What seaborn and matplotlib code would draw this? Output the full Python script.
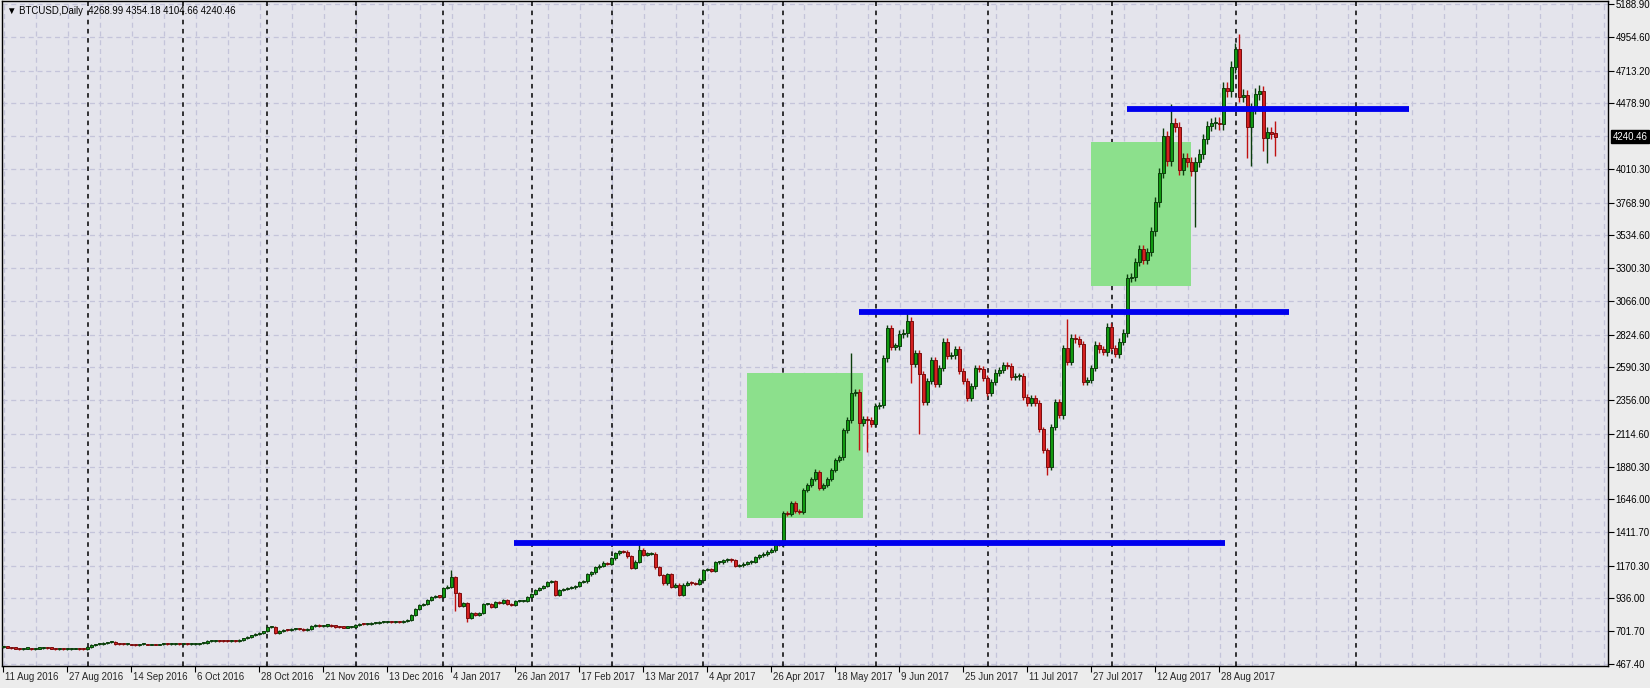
import numpy as np
import pandas as pd
import matplotlib
matplotlib.use("Agg")
import matplotlib.pyplot as plt
from matplotlib.patches import Rectangle
import seaborn as sns

# ---------------- data ----------------
closes = [
    590,585,580,578,575,
    578,580,576,578,580,583,582,578,575,575,573,575,577,578,576,575,
    590,605,608,612,618,622,625,
    612,608,607,608,606,605,607,608,606,608,606,607,610,609,610,612,611,612,610,611,612,615,616,
    630,632,633,632,631,630,633,632,
    640,650,660,672,680,690,
    700,730,735,690,705,712,710,715,718,715,712,715,740,745,738,742,745,740,735,732,728,730,735,748,755,750,755,760,762,765,770,770,768,770,765,775,780,820,860,
    889,896,925,947,952,950,1010,1020,1090,975,
    883,904,795,832,818,832,896,896,875,910,
    905,925,896,889,918,918,920,947,967,996,
    1010,1025,1054,1060,960,996,1005,1012,1015,1025,
    1054,1060,1110,1125,1160,1170,1190,1185,1225,1260,
    1275,1270,1240,1155,1200,1283,1250,1255,1255,1160,
    1105,1045,1110,1020,1035,960,1035,1050,1045,1040,
    1070,1140,1145,1135,1195,1197,1210,1215,1210,1170,
    1175,1185,1195,1200,1230,1245,
    1255,1270,1283,1340,1320,1548,1540,1620,1560,1555,
    1712,1748,1790,1843,1726,1748,1790,1855,1927,1948,
    2140,2212,2406,2413,2192,2220,2212,2185,2313,2320,
    2655,2870,2738,2740,2828,2835,2923,2614,2692,2542,
    2343,2492,2642,2470,2585,2773,2670,2675,2720,2563,
    2492,2370,2456,2585,2580,2513,2406,2487,2552,2570,
    2606,2600,2520,2525,2530,2380,2335,2370,2335,2148,
    1998,1878,2163,2343,2248,2728,2630,2800,2790,2757,
    2487,2500,2585,2750,2720,2700,2880,2728,2685,2773,
    2835,3228,3238,3343,3436,3357,3415,3565,3775,3982,
    4247,4066,4336,4311,4001,4087,4060,3994,4060,4116,
    4223,4316,4335,4340,4330,4588,4566,4738,4867,4526,
    4538,4311,4443,4545,4566,4230,4273,4260,4240.46,
]
first_open = 590
last_ohlc = [4268.99, 4354.18, 4104.66, 4240.46]
# notable wick extremes: bar -> (high, low)
wick_extremes = {
    112: (1140, None), 113: (None, 850), 116: (None, 770), 159: (1333, None),
    212: (2695, None), 214: (None, 1998), 216: (None, 1985), 226: (2990, None),
    227: (None, 2480), 229: (None, 2113), 261: (None, 1820), 266: (2935, None),
    290: (4300, None), 292: (4474, None), 298: (None, 3596), 309: (4975, None),
    311: (None, 4090), 312: (None, 4030), 315: (None, 4140), 316: (None, 4054),
}
date_labels = ["11 Aug 2016", "27 Aug 2016", "14 Sep 2016", "6 Oct 2016", "28 Oct 2016",
               "21 Nov 2016", "13 Dec 2016", "4 Jan 2017", "26 Jan 2017", "17 Feb 2017",
               "13 Mar 2017", "4 Apr 2017", "26 Apr 2017", "18 May 2017", "9 Jun 2017",
               "25 Jun 2017", "11 Jul 2017", "27 Jul 2017", "12 Aug 2017", "28 Aug 2017"]
date_label_bars = [16 * k for k in range(len(date_labels))]
price_ticks = [467.40, 701.70, 936.00, 1170.30, 1411.70, 1646.00, 1880.30, 2114.60, 2356.00,
               2590.30, 2824.60, 3066.00, 3300.30, 3534.60, 3768.90, 4010.30, 4478.90,
               4713.20, 4954.60, 5188.90]
separator_bars = [21.2, 45.1, 66.1, 88.2, 110.1, 132.2, 152.2, 175.1, 195.1, 218.2, 246.2, 277.2, 308.2, 338.3]
level_start = [127.7, 214.0, 281.0]
level_end = [305.5, 321.5, 351.5]
level_price = [1335, 2985, 4435]
zone_bar0 = [185.9, 272.0]
zone_bar1 = [214.9, 297.0]
zone_low = [1514, 3174]
zone_high = [2551, 4204]

# ---------------- build OHLC ----------------
n = len(closes)
opens = [first_open] + closes[:-1]
opens[-1] = last_ohlc[0]
highs, lows = [], []
for i in range(n):
    o, c = opens[i], closes[i]
    w = 0.009 * c
    h, l = max(o, c) + w, min(o, c) - w
    if i in wick_extremes:
        eh, el = wick_extremes[i]
        if eh: h = eh
        if el: l = el
    highs.append(h); lows.append(l)
highs[-1], lows[-1] = last_ohlc[1], last_ohlc[2]
df = pd.DataFrame({"bar": np.arange(n), "open": opens, "high": highs, "low": lows, "close": closes})

# ---------------- figure ----------------
sns.set_theme(style="white")
plt.rcParams["font.family"] = ["Liberation Sans", "DejaVu Sans"]
FS = 6.9
fig = plt.figure(figsize=(16.5, 6.88), dpi=100, facecolor="#ececec")
ax = fig.add_axes([2 / 1650, 22 / 688, 1606 / 1650, 665 / 688])
ax.set_facecolor("#e4e4ec")
ax.set_xlim(-0.25, 401.25)
ax.set_ylim(453.1, 5210.5)

for p in price_ticks + [4244.6]:
    ax.axhline(p, color="#c4c4da", lw=0.9, ls=(0, (4, 3)), zorder=0)
for b in np.arange(0.175, 401, 8):
    ax.axvline(b, color="#c4c4da", lw=0.9, ls=(0, (4, 3)), zorder=0)
for b in separator_bars:
    ax.axvline(b, color="black", lw=1.1, ls=(0, (3, 3)), zorder=1)

for b0, b1, lo, hi in zip(zone_bar0, zone_bar1, zone_low, zone_high):
    ax.add_patch(Rectangle((b0, lo), b1 - b0, hi - lo, facecolor="#8ce08c", edgecolor="none", zorder=1.5))

up = df["close"] >= df["open"]
for mask, body_c, edge_c, wick_c in [(up, "#119911", "#0b3d0b", "#0b3d0b"), (~up, "#d42020", "#7a0d0d", "#c01010")]:
    d = df[mask]
    ax.vlines(d["bar"], d["low"], d["high"], color=wick_c, lw=1.0, zorder=3)
    heights = (d["close"] - d["open"]).abs().clip(lower=8)
    bottoms = np.minimum(d["open"], d["close"])
    ax.bar(d["bar"], heights, bottom=bottoms, width=0.75, color=body_c, edgecolor=edge_c, linewidth=0.7, zorder=4)

lv = pd.DataFrame({"x": level_start + level_end, "y": level_price + level_price,
                   "g": [0, 1, 2, 0, 1, 2]})
sns.lineplot(data=lv, x="x", y="y", units="g", estimator=None, color="#0000ee", lw=4.2,
             solid_capstyle="butt", ax=ax, zorder=5, legend=False)
ax.set_xlabel(""); ax.set_ylabel("")

for s in ax.spines.values():
    s.set_color("black"); s.set_linewidth(1.0)
ax.yaxis.tick_right()
ax.set_yticks(price_ticks)
ax.set_yticklabels([f"{p:.2f}" for p in price_ticks], fontsize=FS, color="black")
ax.tick_params(axis="y", length=4, width=0.8, pad=1.5, color="black", right=True)
ax.set_xticks(date_label_bars)
ax.set_xticklabels([])
ax.tick_params(axis="x", length=4, width=0.8, color="black", bottom=True)
for b, lab in zip(date_label_bars, date_labels):
    ax.annotate(lab, xy=(b, 0), xycoords=("data", "axes fraction"), xytext=(1.5, -4),
                textcoords="offset points", ha="left", va="top", fontsize=FS)

ax.annotate("4240.46", xy=(1, 4240.46), xycoords=("axes fraction", "data"), xytext=(3.5, 0),
            textcoords="offset points", ha="left", va="center", fontsize=FS, color="white",
            bbox=dict(boxstyle="square,pad=0.15", fc="black", ec="black"))

ax.text(0.003, 0.992, "▼ BTCUSD,Daily  4268.99 4354.18 4104.66 4240.46", transform=ax.transAxes,
        ha="left", va="top", fontsize=FS, color="black", zorder=6)

fig.savefig("out.png", dpi=100, facecolor=fig.get_facecolor())
